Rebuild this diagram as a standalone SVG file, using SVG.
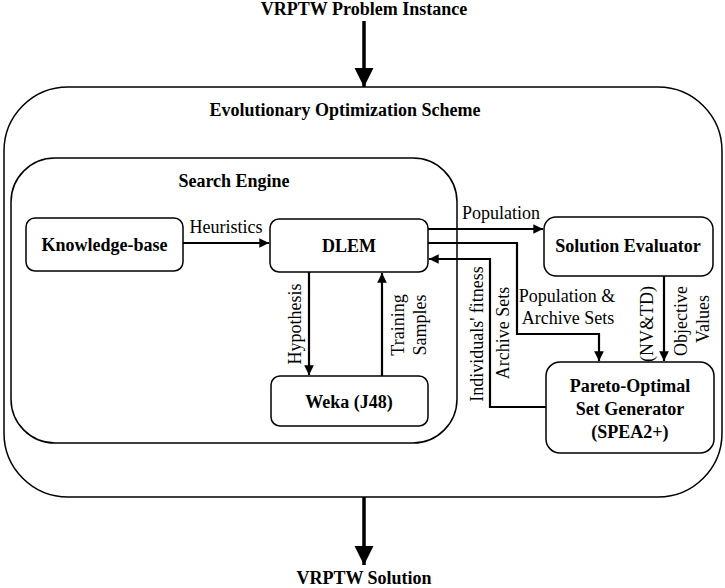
<svg xmlns="http://www.w3.org/2000/svg" width="725" height="588" viewBox="0 0 725 588">
<defs>
<marker id="ah" viewBox="0 0 10 10" refX="10" refY="5" markerWidth="4.4" markerHeight="4.4" markerUnits="strokeWidth" orient="auto">
<path d="M0,0 L10,5 L0,10 Z" fill="#000"/>
</marker>
<marker id="ahs" viewBox="0 0 10 10" refX="10" refY="5" markerWidth="5.5" markerHeight="5.5" markerUnits="strokeWidth" orient="auto">
<path d="M0,0 L10,5 L0,10 Z" fill="#000"/>
</marker>
</defs>
<style>
.box{fill:#fff;stroke:#000;stroke-width:1.5}
.cont{fill:none;stroke:#000;stroke-width:1.5}
.b{font-family:"Liberation Serif",serif;font-weight:bold;font-size:18px;text-anchor:middle;fill:#000}
.t{font-family:"Liberation Serif",serif;font-size:18px;text-anchor:middle;fill:#000}
.a{fill:none;stroke:#000;stroke-width:2.2;marker-end:url(#ah)}
.l{fill:none;stroke:#000;stroke-width:2.2}
.big{fill:none;stroke:#000;stroke-width:3.5;marker-end:url(#ahs)}
</style>
<g id="outer">
<rect class="cont" x="4" y="87" width="718" height="410" rx="64" ry="64"/>
<text class="b" x="345" y="116">Evolutionary Optimization Scheme</text>
</g>
<g id="search-engine">
<rect class="cont" x="11" y="158" width="446" height="285" rx="44" ry="44"/>
<text class="b" x="234" y="187">Search Engine</text>
</g>
<g id="knowledge-base">
<rect class="box" x="26" y="218" width="157" height="53" rx="9"/>
<text class="b" x="104.5" y="251">Knowledge-base</text>
</g>
<g id="dlem">
<rect class="box" x="270" y="219" width="158" height="53" rx="9"/>
<text class="b" x="349" y="252">DLEM</text>
</g>
<g id="weka">
<rect class="box" x="271" y="376" width="157" height="50" rx="9"/>
<text class="b" x="349" y="408">Weka (J48)</text>
</g>
<g id="solution-evaluator">
<rect class="box" x="544" y="217" width="169" height="59" rx="12"/>
<text class="b" x="628" y="252">Solution Evaluator</text>
</g>
<g id="pareto">
<rect class="box" x="546" y="362" width="168" height="91" rx="14"/>
<text class="b" x="630" y="392">Pareto-Optimal</text>
<text class="b" x="630" y="415">Set Generator</text>
<text class="b" x="630" y="438">(SPEA2+)</text>
</g>
<g id="io">
<text class="b" x="364" y="15">VRPTW Problem Instance</text>
<text class="b" x="364" y="584">VRPTW Solution</text>
</g>
<g id="connectors">
<path class="big" d="M364,21 V87"/>
<path class="big" d="M364,497 V565"/>
<path class="a" d="M183,243 H269"/>
<text class="t" x="226" y="233">Heuristics</text>
<path class="a" d="M428,229 H543"/>
<text class="t" x="501" y="219">Population</text>
<path class="l" d="M428,243 H517 V334 H599"/>
<path class="a" d="M599,333 V361"/>
<text class="t" x="567" y="302">Population &amp;</text>
<text class="t" x="568" y="324">Archive Sets</text>
<path class="a" d="M546,407 H490 V259 H429"/>
<text class="t" transform="translate(483,334) rotate(-90)">Individuals' fitness</text>
<text class="t" transform="translate(509,333) rotate(-90)">Archive Sets</text>
<path class="a" d="M309,272 V375"/>
<text class="t" transform="translate(301,324) rotate(-90)">Hypothesis</text>
<path class="a" d="M382,376 V273"/>
<text class="t" transform="translate(404,325) rotate(-90)">Training</text>
<text class="t" transform="translate(426,325) rotate(-90)">Samples</text>
<path class="a" d="M664,276 V361"/>
<text class="t" transform="translate(653,324) rotate(-90)">(NV&amp;TD)</text>
<text class="t" transform="translate(687,321) rotate(-90)">Objective</text>
<text class="t" transform="translate(709,319) rotate(-90)">Values</text>
</g>
</svg>
